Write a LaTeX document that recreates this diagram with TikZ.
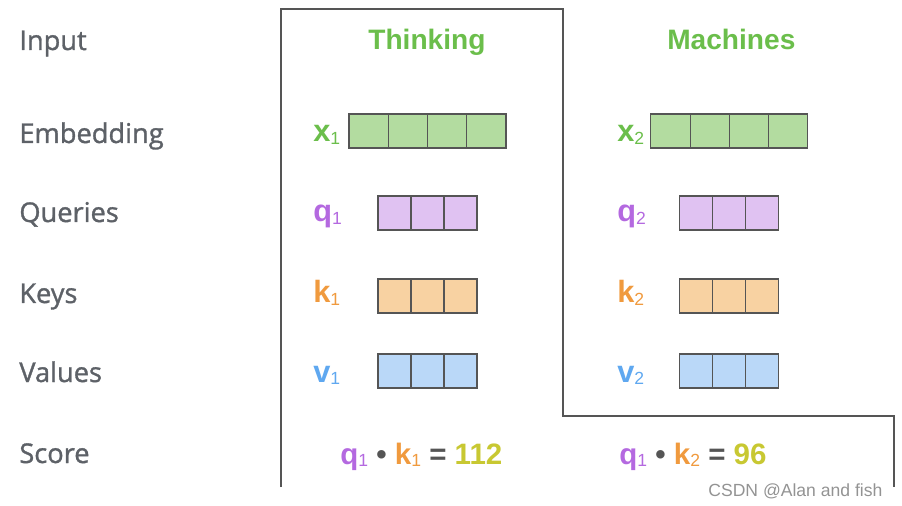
\documentclass[tikz,border=0pt]{standalone}
\usepackage{fontspec}
\setmainfont{Liberation Sans}
\newfontfamily\labelfont[FakeBold=1.2]{Open Sans}
\usepackage{tikz}
\usetikzlibrary{positioning}
\definecolor{wordgreen}{HTML}{6BBE4B}
\definecolor{embfill}{HTML}{B3DCA0}
\definecolor{qpurple}{HTML}{B469E0}
\definecolor{qfill}{HTML}{E0C2F2}
\definecolor{korange}{HTML}{F09A3E}
\definecolor{kfill}{HTML}{F8D2A2}
\definecolor{vblue}{HTML}{5FA8F0}
\definecolor{vfill}{HTML}{BAD8F8}
\definecolor{scoreyellow}{HTML}{C8C832}
\definecolor{rowgray}{HTML}{5D6167}
\definecolor{framegray}{HTML}{555555}
\newcommand{\vsub}[1]{\raisebox{-1.5pt}{\fontsize{10}{10}\selectfont\mdseries #1}}

\begin{document}
\begin{tikzpicture}[x=0.02cm, y=-0.02cm,
    rowlabel/.style={anchor=base west, inner sep=0, text=rowgray, font=\labelfont\fontsize{15.5}{18}\selectfont},
    word/.style={anchor=base west, inner sep=0, text=wordgreen, font=\bfseries\fontsize{16}{19}\selectfont},
    veclabel/.style={anchor=base west, inner sep=0, font=\bfseries\fontsize{17.5}{20}\selectfont},
    scoreline/.style={anchor=base west, inner sep=0, font=\bfseries\fontsize{16.8}{20}\selectfont},
    cell/.style={draw=framegray, line width=0.6pt},
    frame/.style={draw=framegray, line width=0.9pt}]
    \useasboundingbox (0,0) rectangle (902,506);

    % row names
    \node[rowlabel] (input) at (19,50) {Input};
    \node[rowlabel] (embedding) at (19,143) {Embedding};
    \node[rowlabel] (queries) at (19,222) {Queries};
    \node[rowlabel] (keys) at (19,303) {Keys};
    \node[rowlabel] (values) at (19,382) {Values};
    \node[rowlabel] (score) at (19,463) {Score};

    % outline round the first word
    \draw[frame] (281,487) -- (281,9) -- (563,9) -- (563,416) -- (894,416) -- (894,487);

    % Thinking
    \begin{scope}
        \node[word] (thinking) at (368,50) {Thinking};
        \node[veclabel, text=wordgreen] (x1) at (313,142) {x\vsub{1}};
        \node[veclabel, text=qpurple] (q1) at (313,222) {q\vsub{1}};
        \node[veclabel, text=korange] (k1) at (313,303) {k\vsub{1}};
        \node[veclabel, text=vblue] (v1) at (313,382) {v\vsub{1}};
        \foreach \i in {0,...,3}
            \draw[cell, fill=embfill] (349+\i*39.25,114) rectangle ++(39.25,34);
        \foreach \i in {0,...,2} {
            \draw[cell, fill=qfill] (378+\i*33,196) rectangle ++(33,34);
            \draw[cell, fill=kfill] (378+\i*33,279) rectangle ++(33,34);
            \draw[cell, fill=vfill] (378+\i*33,354) rectangle ++(33,34);
        }
    \end{scope}

    % Machines
    \begin{scope}[xshift=6.04cm]
        \node[word] (machines) at (365,50) {Machines};
        \node[veclabel, text=wordgreen] (x2) at (315,142) {x\vsub{2}};
        \node[veclabel, text=qpurple] (q2) at (315,222) {q\vsub{2}};
        \node[veclabel, text=korange] (k2) at (315,303) {k\vsub{2}};
        \node[veclabel, text=vblue] (v2) at (315,382) {v\vsub{2}};
        \foreach \i in {0,...,3}
            \draw[cell, fill=embfill] (349+\i*39.25,114) rectangle ++(39.25,34);
        \foreach \i in {0,...,2} {
            \draw[cell, fill=qfill] (378+\i*33,196) rectangle ++(33,34);
            \draw[cell, fill=kfill] (378+\i*33,279) rectangle ++(33,34);
            \draw[cell, fill=vfill] (378+\i*33,354) rectangle ++(33,34);
        }
    \end{scope}

    % scores
    \node[scoreline] (score1) at (340,464) {\textcolor{qpurple}{q\vsub{1}} \textcolor{framegray}{•} \textcolor{korange}{k\vsub{1}} \textcolor{framegray}{=} \textcolor{scoreyellow}{112}};
    \node[scoreline] (score2) at (619,464) {\textcolor{qpurple}{q\vsub{1}} \textcolor{framegray}{•} \textcolor{korange}{k\vsub{2}} \textcolor{framegray}{=} \textcolor{scoreyellow}{96}};

    \node[anchor=base west, inner sep=0, text=gray!85, font=\fontsize{10}{12}\selectfont] (mark) at (708,496) {CSDN @Alan and fish};
\end{tikzpicture}
\end{document}
